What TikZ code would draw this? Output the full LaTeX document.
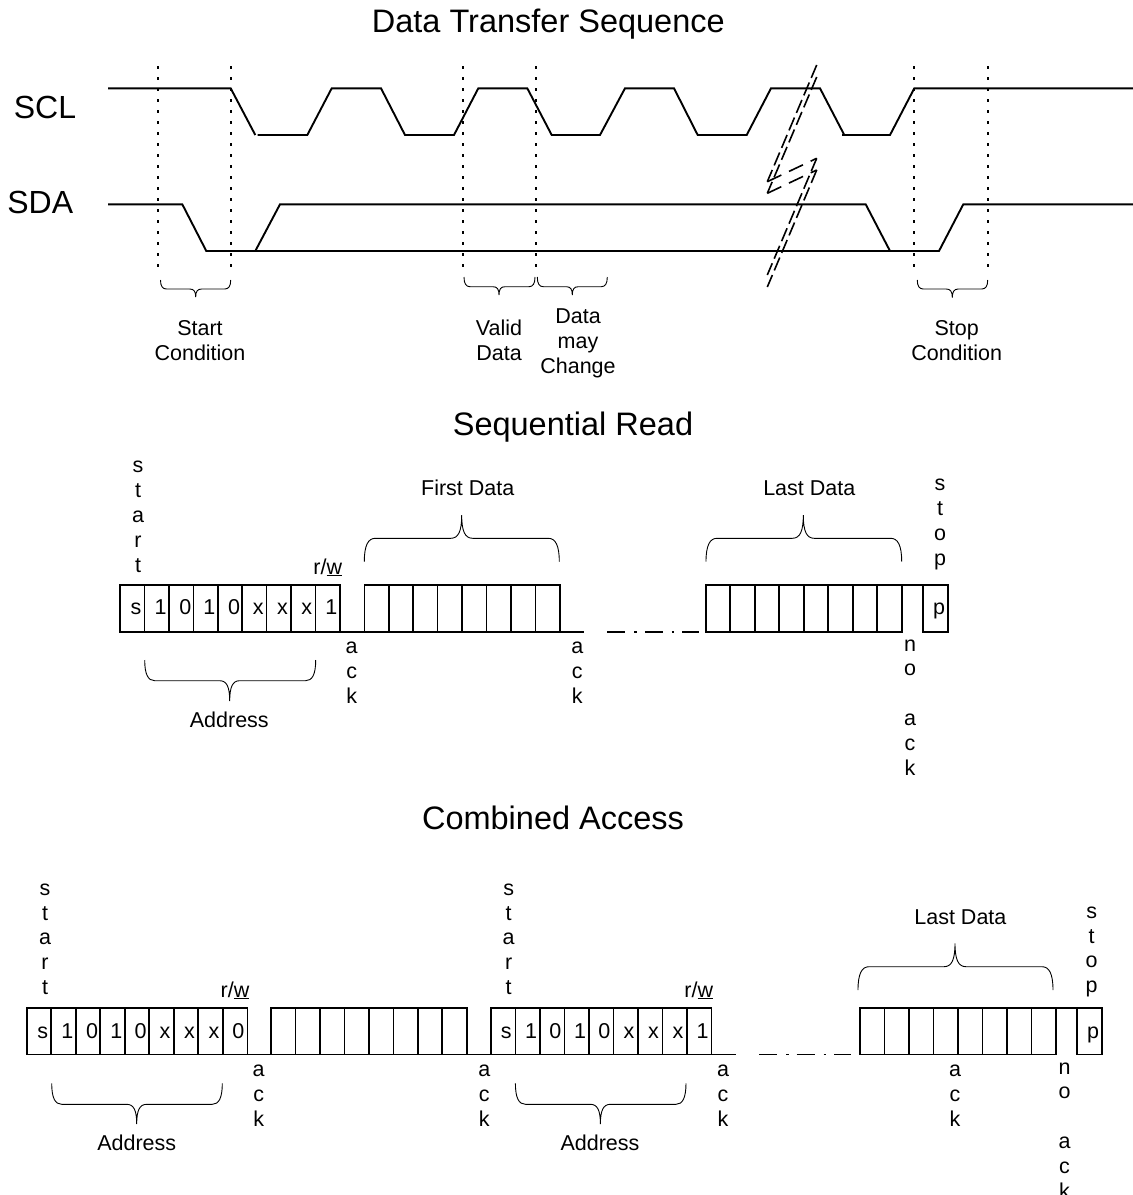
\documentclass[tikz,border=0pt]{standalone}
\usepackage{fontspec}
\setmainfont{Liberation Sans}
\tikzset{
  headline/.style={font=\fontsize{32.5}{36}\selectfont, anchor=base, inner sep=0pt},
  sigfont/.style={font=\fontsize{32}{36}\selectfont, anchor=base, inner sep=0pt},
  caption/.style={font=\fontsize{21.5}{25}\selectfont, anchor=base, align=center, inner sep=0pt},
  stack/.style={font=\fontsize{21.5}{24.8}\selectfont, anchor=base, align=center, inner sep=0pt},
  signal/.style={line width=1.9pt, line join=miter},
  guide/.style={line width=1.8pt, dash pattern=on 2.5pt off 8.5pt},
  slash/.style={line width=1.6pt, dash pattern=on 14pt off 5pt},
  zigzag/.style={line width=1.6pt, dash pattern=on 15.5pt off 8.5pt},
  frame/.style={line width=1.6pt},
  gapline/.style={line width=1.6pt, dash pattern=on 18pt off 9pt on 2.5pt off 8pt},
  curly/.style={line width=0.9pt}
}
% one brace: ends x1,x2 at yend, flat part at yflat, tip xt,ytip, corner r
\newcommand{\curlybrace}[7]{
  \draw[curly] (#1,#4) .. controls (#1,{#4+0.7*(#5-#4)}) and ({#1+0.35*#7},#5) .. ({#1+#7},#5)
    -- ({#3-#7},#5) .. controls ({#3-0.3*#7},#5) and (#3,{#5+0.3*(#6-#5)}) .. (#3,#6)
    .. controls (#3,{#5+0.3*(#6-#5)}) and ({#3+0.3*#7},#5) .. ({#3+#7},#5)
    -- ({#2-#7},#5) .. controls ({#2-0.35*#7},#5) and (#2,{#4+0.7*(#5-#4)}) .. (#2,#4);
}
% n cells from x at ytop..ybot
\newcommand{\cellrow}[5]{
  \draw[frame] (#1,#3) rectangle (#2,#4);
  \foreach \k in {1,...,#5} \draw[frame] ({#1+\k*(#2-#1)/(#5+1)},#3) -- ({#1+\k*(#2-#1)/(#5+1)},#4);
}
\begin{document}
\begin{tikzpicture}[x=1pt,y=-1pt]
\useasboundingbox (0,0) rectangle (1133,1195);

\node[headline] (titletransfer) at (548.3,32) {Data Transfer Sequence};
\node[sigfont] (sclname) at (45,118.5) {SCL};
\node[sigfont] (sdaname) at (40.3,213.5) {SDA};

% guide lines
\foreach \x in {157.7,230.7,462.7,536,914.3,987.7}
  \draw[guide] (\x,66) -- (\x,270);

% SCL
\draw[signal] (108,88.3) -- (230.7,88.3) -- (255.3,135) (257.7,135) -- (307.3,135) -- (331.7,88.3) -- (381,88.3)
  -- (405,135) -- (454,135) -- (478.3,88.3) -- (527.3,88.3) -- (551.7,135) -- (600,135) -- (625,88.3)
  -- (674,88.3) -- (697.7,135) -- (746.7,135) -- (771,88.3) -- (820,88.3) -- (844.3,135) (842,135)
  -- (890,135) -- (914.3,88.3) -- (1133,88.3);

% SDA
\draw[signal] (108,204.3) -- (182.3,204.3) -- (206.3,251) -- (939,251) -- (963.3,204.3) -- (1133,204.3);
\draw[signal] (255.3,251) -- (280,204.3) -- (865.7,204.3) -- (890,251);

% break marks
\draw[slash] (816.7,65) -- (767.3,181.7);
\draw[slash] (816.7,77) -- (767.3,193.3);
\draw[zigzag] (767.3,181.7) -- (816.7,158.3);
\draw[zigzag] (767.3,193.3) -- (816.7,170);
\draw[slash] (816.7,158.3) -- (767.3,275);
\draw[slash] (816.7,170) -- (767.3,287);

\curlybrace{160.5}{230.7}{195.7}{280}{289}{297}{6}
\curlybrace{464}{535}{499}{277}{286.7}{295}{6}
\curlybrace{537.3}{607.3}{572.3}{277}{286.7}{295}{6}
\curlybrace{917.3}{987.7}{952.3}{280}{289}{297.7}{6}

\node[caption] (startcond) at (200,360) {Start\\Condition};
\node[caption] (validdata) at (499,360) {Valid\\Data};
\node[caption] (maychange) at (578,373) {Data\\may\\Change};
\node[caption] (stopcond) at (956.7,360) {Stop\\Condition};

% Sequential read
\node[headline] (titleread) at (573,435) {Sequential Read};
\cellrow{120}{340}{585}{631.7}{8}
\cellrow{364.3}{560}{585}{631.7}{7}
\cellrow{705.7}{901.7}{585}{631.7}{7}
\draw[frame] (340,631.7) -- (364.3,631.7) (560,631.7) -- (584.3,631.7);
\draw[frame] (901.7,585) -- (922.7,585);
\draw[frame] (922.7,585) rectangle (947.7,631.7);
\draw[gapline] (607.3,631.7) -- (699,631.7);

\foreach \x/\t in {136/s,160.7/1,185.3/0,209.3/1,234/0,258.3/x,282.5/x,306.7/x,331.3/1}
  \node[caption] at (\x,614) {\t};
\node[caption] (pread) at (939,614) {p};
\node[stack] (startread) at (138,572) {s\\t\\a\\r\\t};
\node[caption] (rwread) at (327.7,574) {r/\underline{w}};
\node[stack] (ackreadone) at (351.7,703.5) {a\\c\\k};
\node[stack] (ackreadtwo) at (577.3,703.5) {a\\c\\k};
\node[stack] (stopread) at (940,565) {s\\t\\o\\p};
\node[stack] (noackread) at (910,775) {n\\o\\ \\a\\c\\k};
\node[caption] (firstdata) at (467.7,495) {First Data};
\node[caption] (lastdataread) at (809.3,495) {Last Data};
\node[caption] (addrread) at (229.3,727.7) {Address};
\curlybrace{144.7}{315.7}{229.7}{660}{680.7}{701}{10}
\curlybrace{364.3}{559.3}{461.7}{561.7}{538.3}{515}{11}
\curlybrace{706}{901.7}{803.3}{561.7}{538.3}{515}{11}

% Combined access
\node[headline] (titlecombined) at (553,829) {Combined Access};
\cellrow{26.7}{247.3}{1007.7}{1054.3}{8}
\cellrow{271}{466.7}{1007.7}{1054.3}{7}
\cellrow{491}{711.3}{1007.7}{1054.3}{8}
\cellrow{860}{1055.8}{1007.7}{1054.3}{7}
\draw[frame] (247.3,1054.3) -- (271,1054.3) (466.7,1054.3) -- (491,1054.3) (711.3,1054.3) -- (736.3,1054.3);
\draw[frame] (1055.8,1007.7) -- (1077,1007.7);
\draw[frame] (1077,1007.7) rectangle (1102,1054.3);
\draw[gapline] (759,1054.3) -- (851,1054.3);

\foreach \x/\t in {42.7/s,67.3/1,92/0,116.3/1,140.7/0,165/x,189.5/x,214/x,238.3/0,
                   506.3/s,531/1,555.3/0,580/1,604.3/0,629/x,653.5/x,678/x,702.5/1}
  \node[caption] at (\x,1038.3) {\t};
\node[caption] (pcomb) at (1093,1038.3) {p};
\node[stack] (startcombone) at (45,994.5) {s\\t\\a\\r\\t};
\node[stack] (startcombtwo) at (508.7,994.5) {s\\t\\a\\r\\t};
\node[caption] (rwcombone) at (235,997) {r/\underline{w}};
\node[caption] (rwcombtwo) at (698.7,997) {r/\underline{w}};
\node[stack] (ackcombone) at (258.7,1126) {a\\c\\k};
\node[stack] (ackcombtwo) at (484.3,1126) {a\\c\\k};
\node[stack] (ackcombthree) at (723,1126) {a\\c\\k};
\node[stack] (ackcombfour) at (955,1126) {a\\c\\k};
\node[stack] (stopcomb) at (1091.7,992.7) {s\\t\\o\\p};
\node[stack] (noackcomb) at (1064.6,1198) {n\\o\\ \\a\\c\\k};
\node[caption] (lastdatacomb) at (960.4,924) {Last Data};
\node[caption] (addrcombone) at (136.7,1150.7) {Address};
\node[caption] (addrcombtwo) at (600,1150.7) {Address};
\curlybrace{51.7}{222.3}{136.7}{1083.3}{1104.3}{1124}{10}
\curlybrace{515.4}{686}{600.4}{1083.3}{1104.3}{1124}{10}
\curlybrace{858}{1053}{955}{990}{966.7}{943.3}{11}

\end{tikzpicture}
\end{document}
